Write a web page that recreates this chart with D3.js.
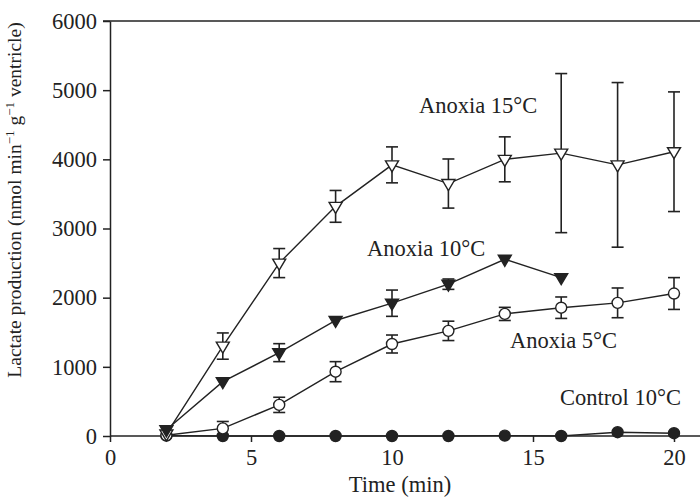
<!DOCTYPE html>
<html lang="en">
<head>
    <meta charset="UTF-8">
    <title>Lactate production</title>
    <style>
        body { margin: 0; background: #fff; }
        text { font-family: "Liberation Serif", "Times New Roman", serif; fill: #222; }
    </style>
</head>
<body>

<script src="https://d3js.org/d3.v7.min.js"></script>
<script>
    var times = [2, 4, 6, 8, 10, 12, 14, 16, 18, 20];

    // Anoxia 15°C, open down triangles
    var anox15 = [30, 1300, 2500, 3320, 3920, 3650, 4000, 4090, 3920, 4110];
    var anox15Err = [0, 190, 210, 230, 260, 355, 325, 1150, 1190, 865];

    // Anoxia 10°C, filled down triangles (stops at 16 min)
    var anox10 = [90, 785, 1205, 1670, 1920, 2195, 2555, 2290];
    var anox10Err = [0, 0, 130, 0, 190, 75, 0, 0];

    // Anoxia 5°C, open circles
    var anox5 = [10, 110, 450, 930, 1330, 1520, 1765, 1855, 1925, 2060];
    var anox5Err = [0, 100, 110, 145, 130, 140, 95, 155, 215, 230];

    // Control 10°C, filled circles
    var control10 = [5, 0, 0, 0, 0, 0, 5, 0, 55, 40];

    var xTicks = [0, 5, 10, 15, 20];
    var yTicks = [0, 1000, 2000, 3000, 4000, 5000, 6000];

    var width = 700, height = 502;

    var x = d3.scaleLinear().domain([0, 20]).range([110, 674]);
    var y = d3.scaleLinear().domain([0, 6000]).range([436, 21]);

    var svg = d3.select('body').append('svg')
        .attr('width', width)
        .attr('height', height);

    // frame lines: bottom axis and top border run to the right edge
    svg.append('line')
        .attr('x1', x(0)).attr('x2', width)
        .attr('y1', y(0)).attr('y2', y(0))
        .attr('stroke', '#222').attr('stroke-width', 1.5);
    svg.append('line')
        .attr('x1', x(0) - 7).attr('x2', width)
        .attr('y1', y(6000)).attr('y2', y(6000))
        .attr('stroke', '#222').attr('stroke-width', 1.5);

    var yAxis = d3.axisLeft(y).tickValues(yTicks).tickFormat(d3.format('d'))
        .tickSize(7).tickSizeOuter(0).tickPadding(6);
    var xAxis = d3.axisBottom(x).tickValues(xTicks).tickFormat(d3.format('d'))
        .tickSize(6).tickSizeOuter(0).tickPadding(7);

    var gy = svg.append('g').attr('transform', 'translate(' + x(0) + ',0)').call(yAxis);
    var gx = svg.append('g').attr('transform', 'translate(0,' + y(0) + ')').call(xAxis);

    [gx, gy].forEach(function(g) {
        g.select('.domain').attr('stroke', '#222').attr('stroke-width', 1.5);
        g.selectAll('.tick line').attr('stroke', '#222').attr('stroke-width', 1.5);
        g.selectAll('.tick text')
            .attr('fill', '#222')
            .style('font-family', '"Liberation Serif", "Times New Roman", serif')
            .style('font-size', '22.5px');
    });
    gx.select('.domain').remove();

    // axis titles
    svg.append('text')
        .attr('x', 400).attr('y', 492)
        .attr('text-anchor', 'middle')
        .style('font-size', '22.5px')
        .text('Time (min)');

    var yt = svg.append('text')
        .attr('transform', 'translate(21,200) rotate(-90)')
        .attr('text-anchor', 'middle')
        .style('font-size', '19.5px');
    yt.append('tspan').text('Lactate production (nmol min');
    yt.append('tspan').attr('baseline-shift', 'super').style('font-size', '13px').text('\u22121');
    yt.append('tspan').text(' g');
    yt.append('tspan').attr('baseline-shift', 'super').style('font-size', '13px').text('\u22121');
    yt.append('tspan').text(' ventricle)');

    var line = d3.line()
        .x(function(d) { return x(d.t); })
        .y(function(d) { return y(d.v); });

    function series(vals, errs) {
        return vals.map(function(v, i) {
            return {t: times[i], v: v, e: errs ? errs[i] : 0};
        });
    }

    var s15 = series(anox15, anox15Err),
        s10 = series(anox10, anox10Err),
        s5 = series(anox5, anox5Err),
        sc = series(control10, null);

    function drawLine(data) {
        svg.append('path')
            .datum(data)
            .attr('d', line)
            .attr('fill', 'none')
            .attr('stroke', '#222')
            .attr('stroke-width', 1.4);
    }

    function drawErr(data) {
        var g = svg.append('g').attr('stroke', '#222').attr('stroke-width', 1.6);
        data.filter(function(d) { return d.e > 0; }).forEach(function(d) {
            g.append('line')
                .attr('x1', x(d.t)).attr('x2', x(d.t))
                .attr('y1', y(d.v + d.e)).attr('y2', y(d.v - d.e));
            [d.v + d.e, d.v - d.e].forEach(function(v) {
                g.append('line')
                    .attr('x1', x(d.t) - 6).attr('x2', x(d.t) + 6)
                    .attr('y1', y(v)).attr('y2', y(v));
            });
        });
    }

    var triDown = function(d) {
        var cx = x(d.t), cy = y(d.v);
        return 'M' + (cx - 6.5) + ',' + (cy - 4) + 'L' + (cx + 6.5) + ',' + (cy - 4) +
               'L' + cx + ',' + (cy + 7) + 'Z';
    };

    function drawTri(data, fill) {
        svg.append('g').selectAll('path')
            .data(data)
          .enter().append('path')
            .attr('d', triDown)
            .attr('fill', fill)
            .attr('stroke', '#222')
            .attr('stroke-width', 1.4);
    }

    function drawCircle(data, fill, r) {
        svg.append('g').selectAll('circle')
            .data(data)
          .enter().append('circle')
            .attr('cx', function(d) { return x(d.t); })
            .attr('cy', function(d) { return y(d.v); })
            .attr('r', r)
            .attr('fill', fill)
            .attr('stroke', '#222')
            .attr('stroke-width', 1.4);
    }

    [s15, s10, s5, sc].forEach(drawLine);
    [s15, s10, s5].forEach(drawErr);

    drawCircle(sc, '#222', 5.5);
    drawCircle(s5, '#fff', 5.5);
    drawTri(s15, '#fff');
    drawTri(s10, '#222');

    // series labels
    var labels = [
        {text: 'Anoxia 15\u00b0C', x: 419, y: 113},
        {text: 'Anoxia 10\u00b0C', x: 367, y: 256},
        {text: 'Anoxia 5\u00b0C', x: 510, y: 348},
        {text: 'Control 10\u00b0C', x: 560, y: 405}
    ];
    svg.append('g').selectAll('text')
        .data(labels)
      .enter().append('text')
        .attr('x', function(d) { return d.x; })
        .attr('y', function(d) { return d.y; })
        .style('font-size', '22.5px')
        .text(function(d) { return d.text; });
</script>
</body>
</html>
